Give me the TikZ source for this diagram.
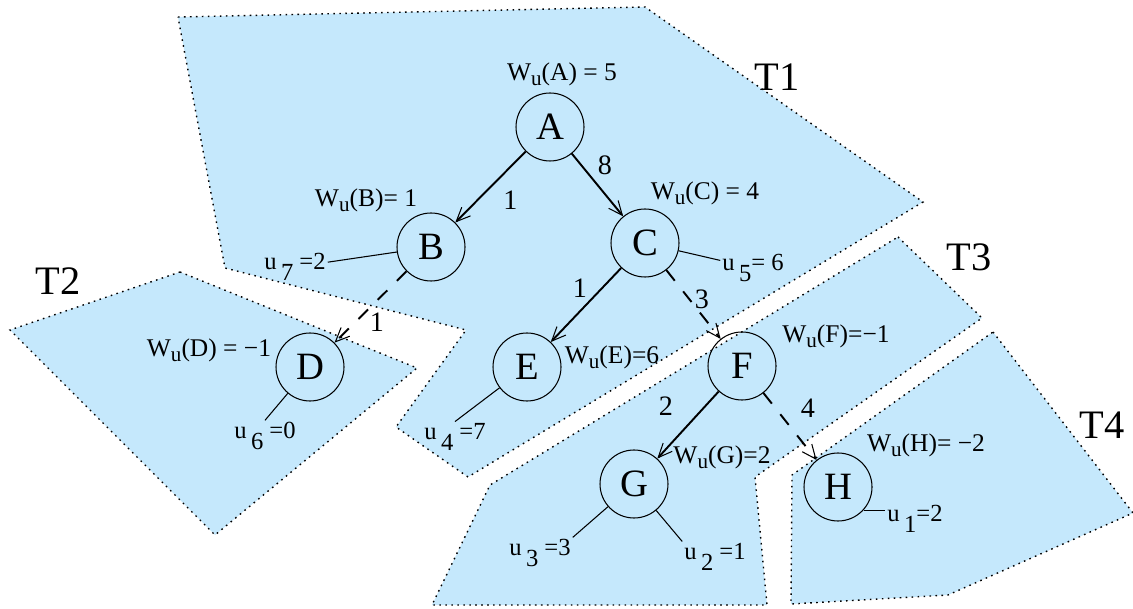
\documentclass[tikz,border=0pt]{standalone}
\usepackage{fontspec}
\setmainfont{Liberation Serif}
\usetikzlibrary{arrows.meta}
\definecolor{zoneblue}{RGB}{197,232,252}
\newcommand{\wu}{W\raisebox{-3pt}{\fontsize{12}{12}\selectfont u}}
\newcommand{\us}[1]{u\hspace{2.5pt}\raisebox{-6pt}{#1}}

\begin{document}
\begin{tikzpicture}[x=0.2mm,y=-0.2mm,
    zone/.style={fill=zoneblue,draw=black,line width=0.8pt,
      dash pattern=on 0.9pt off 2.5pt},
    vtx/.style={circle,draw,line width=0.6pt,minimum size=13.6mm,
      inner sep=0pt,font=\fontsize{22}{22}\selectfont},
    wlbl/.style={font=\fontsize{14.5}{14.5}\selectfont,inner sep=1pt},
    ulbl/.style={font=\fontsize{14}{14}\selectfont,inner sep=1pt},
    tlbl/.style={font=\fontsize{23}{23}\selectfont},
    elbl/.style={font=\fontsize{16}{16}\selectfont,inner sep=0pt},
    tree/.style={line width=1.1pt,
      -{Straight Barb[length=8pt,width=7pt,line width=0.6pt]}},
    cut/.style={tree,dash pattern=on 7.7pt off 7.7pt},
    tie/.style={line width=0.6pt}]
  \useasboundingbox (0,0) rectangle (1133,609);
  % Subtrees
  \draw[zone] (178,17) -- (645,7) -- (923,202) -- (468,477) -- (396,427)
    -- (466,330) -- (225,268) -- cycle;
  \draw[zone] (180,272) -- (417,368) -- (215,535) -- (10,330) -- cycle;
  \draw[zone] (898,237) -- (982,318) -- (755,477) -- (767,605) -- (432,605)
    -- (490,485) -- cycle;
  \draw[zone] (993,332) -- (1133,513) -- (948,595) -- (791,604)
    -- (792,475) -- cycle;
  \node[tlbl] (T1) at (777,77) {T1};
  \node[tlbl] (T2) at (58,281) {T2};
  \node[tlbl] (T3) at (969,257) {T3};
  \node[tlbl] (T4) at (1102,425) {T4};
  % Vertices
  \node[vtx] (A) at (550,127) {A};
  \node[vtx] (B) at (431,247) {B};
  \node[vtx] (C) at (645,243) {C};
  \node[vtx] (D) at (310,367) {D};
  \node[vtx] (E) at (527,367) {E};
  \node[vtx] (F) at (742,366) {F};
  \node[vtx] (G) at (634,484) {G};
  \node[vtx] (H) at (838,487) {H};
  % Weights
  \node[wlbl] (wA) at (562,74) {\wu(A) = 5};
  \node[wlbl] (wB) at (366,200) {\wu(B)= 1};
  \node[wlbl] (wC) at (705,193) {\wu(C) = 4};
  \node[wlbl] (wD) at (209,350) {\wu(D) = −1};
  \node[wlbl] (wE) at (612,357) {\wu(E)=6};
  \node[wlbl] (wF) at (836,336) {\wu(F)=−1};
  \node[wlbl] (wG) at (722,457) {\wu(G)=2};
  \node[wlbl] (wH) at (926,445) {\wu(H)= −2};
  % Leaf values
  \node[ulbl] (u7) at (295,267) {\us{7} =2};
  \node[ulbl] (u5) at (753,268) {\us{5}= 6};
  \node[ulbl] (u6) at (265,436) {\us{6} =0};
  \node[ulbl] (u4) at (455,437) {\us{4} =7};
  \node[ulbl] (u3) at (540,553) {\us{3} =3};
  \node[ulbl] (u2) at (715,557) {\us{2} =1};
  \node[ulbl] (u1) at (915,519) {\us{1}=2};
  \draw[tie] (B) -- (u7);
  \draw[tie] (C) -- (u5);
  \draw[tie] (D) -- (u6.north);
  \draw[tie] (E) -- (u4.north);
  \draw[tie] (G) -- (u3.north east);
  \draw[tie] (G) -- (u2.north west);
  \draw[tie] (H.-42) -- (H.-42 -| u1.west);
  % Edges
  \draw[tree] (A) -- (B) node[elbl,midway,xshift=4mm,yshift=-2.6mm]{1};
  \draw[tree] (A) -- (C) node[elbl,midway,xshift=1.5mm,yshift=4mm]{8};
  \draw[cut] (B) -- (D) node[elbl,midway,xshift=1.3mm,yshift=-3mm]{1};
  \draw[tree] (C) -- (E) node[elbl,midway,xshift=-1.2mm,yshift=3.4mm]{1};
  \draw[cut] (C) -- (F) node[elbl,midway,xshift=1.7mm,yshift=1.1mm]{3};
  \draw[tree] (F) -- (G) node[elbl,midway,xshift=-4.4mm,yshift=3.8mm]{2};
  \draw[cut] (F) -- (H) node[elbl,midway,xshift=3.6mm,yshift=3.7mm]{4};
\end{tikzpicture}
\end{document}
